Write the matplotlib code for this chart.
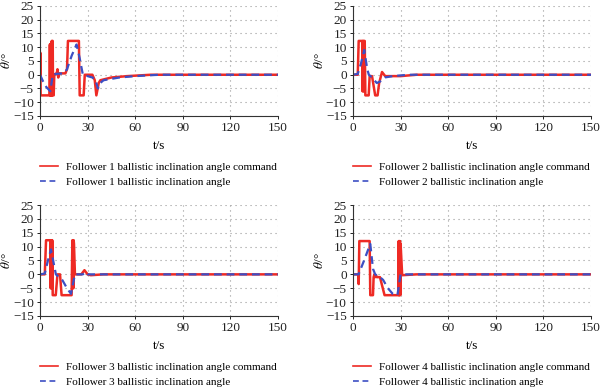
import matplotlib
matplotlib.use("Agg")
import matplotlib.pyplot as plt

plt.rcParams["font.family"] = ["Liberation Serif", "DejaVu Serif"]
plt.rcParams["mathtext.fontset"] = "stix"

# follower 1
t1_cmd = [0, 0.2, 0.4, 0.6, 6.0, 6.2, 6.4, 6.6, 6.8, 7.0, 7.2, 7.4, 7.6, 7.8, 8.0, 8.2, 8.6, 9.0,
          9.5, 10.5, 11.0, 11.5, 12.0, 16.0, 17.0, 17.6, 24.5, 25.0, 27.5, 28.2, 33.0, 34.5, 35.5,
          37.0, 38.0, 45.0, 55.0, 70.0, 150]
v1_cmd = [0, 8, -7.5, -7.5, -7.5, 11, -7.5, 11, -7.5, 11.5, -7.5, 12.3, -7.5, 12.3, 12.3, -7.5, -7.5, 0,
          0.3, 0.3, 2, -1, 0.5, 0.5, 2, 12.3, 12.3, -7.5, -7.5, 0, 0, -2, -7.5,
          -3, -2, -1, -0.5, 0, 0]
t1_act = [0, 2, 4, 6.5, 8, 10, 15, 17, 20, 23, 25, 27, 30, 33, 35, 36.5, 38, 40, 50, 60, 75, 150]
v1_act = [0, -2.5, -4.5, -6, 0, 0.3, 0.5, 2, 7, 11, 6, 0, -0.5, -1, -2, -5, -3, -2, -1, -0.5, 0, 0]

# follower 2
t2_cmd = [0, 3.0, 3.6, 5.8, 6.0, 6.2, 6.4, 6.6, 6.8, 7.0, 7.4, 7.8, 9.9, 10.5, 12.0, 14.0, 15.5,
          16.5, 18.3, 20.3, 30.0, 40.0, 150]
v2_cmd = [0, 0, 12.3, 12.3, -6, 12.3, -6, 12.3, -6, 12.3, 12.3, -7.5, -7.5, -0.5, -0.5, -7.5, -7.5,
          -3, 1, -0.5, -0.5, 0, 0]
t2_act = [0, 3, 5, 7.1, 9, 10, 12, 15, 17, 20, 25, 35, 150]
v2_act = [0, 0.3, 4, 9, 2, 0, -1, -3, -2.5, -1, -0.5, 0, 0]

# follower 3
t3_cmd = [0, 3.0, 3.8, 6.5, 6.7, 6.9, 7.1, 7.3, 7.5, 7.7, 8.0, 9.9, 11.0, 12.6, 13.6, 19.9, 20.4,
          20.6, 20.8, 21.0, 21.2, 21.4, 22.0, 26.0, 28.0, 30.0, 32.0, 40.0, 150]
v3_cmd = [0, 0, 12.3, 12.3, -5, 12.3, -5, 12.3, -5, 12.3, -7.5, -7.5, 0, 0, -7.5, -7.5, 12.3,
          -5, 12.3, -5, 12.3, 11, 0, 0, 1.5, 0, -0.3, 0, 0]
t3_act = [0, 3, 5, 6.9, 10, 12, 14, 17, 19.5, 22, 27, 28.5, 30, 150]
v3_act = [0, 0.3, 5, 9, 0, -1, -2, -5, -7, 0, 0, 0.8, 0, 0]

# follower 4
t4_cmd = [0, 3.4, 3.6, 4.0, 10.5, 10.9, 12.6, 13.0, 13.5, 14.0, 14.5, 15.0, 17.0, 19.9, 28.6, 28.8,
          29.0, 29.2, 29.4, 29.6, 29.8, 30.0, 31.0, 40.0, 150]
v4_cmd = [0, 0, -3.5, 12, 12, -7.5, -7.5, -1, 0, -1, -0.3, -1, -1, -7.5, -7.5, 12,
          -7.5, 12, -7.5, 12, -7.5, 11, -0.3, 0, 0]
t4_act = [0, 3.5, 7, 10.9, 12.6, 14, 17, 19, 22, 25, 28, 30, 40, 150]
v4_act = [0, 0, 5, 11, 2, 0, -1, -2, -5, -7, -7.5, 0, 0, 0]

series = [
    (t1_cmd, v1_cmd, t1_act, v1_act),
    (t2_cmd, v2_cmd, t2_act, v2_act),
    (t3_cmd, v3_cmd, t3_act, v3_act),
    (t4_cmd, v4_cmd, t4_act, v4_act),
]

x_ticks = [0, 30, 60, 90, 120, 150]
y_ticks = [-15, -10, -5, 0, 5, 10, 15, 20, 25]

red = "#ee2a24"
blue = "#3d4fc4"

fig = plt.figure(figsize=(6, 3.89), dpi=100)
positions = [
    [0.0667, 0.7018, 0.3967, 0.2828],
    [0.5883, 0.7018, 0.3967, 0.2828],
    [0.0667, 0.1877, 0.3967, 0.2853],
    [0.5883, 0.1877, 0.3967, 0.2853],
]

for i, (tc, vc, ta, va) in enumerate(series):
    ax = fig.add_axes(positions[i])
    n = i + 1
    ax.plot(tc, vc, color=red, lw=1.8,
            label=f"Follower {n} ballistic inclination angle command")
    ax.plot(ta, va, color=blue, lw=1.6, ls=(0, (3.5, 2.2)),
            label=f"Follower {n} ballistic inclination angle")
    ax.set_xlim(0, 150)
    ax.set_ylim(-15, 25)
    ax.set_xticks(x_ticks)
    ax.set_yticks(y_ticks)
    ax.set_yticklabels([str(v).replace("-", "\u2212") for v in y_ticks])
    ax.grid(True, color="#999999", ls=(0, (1, 3.5)), lw=0.8)
    for s in ["top", "right"]:
        ax.spines[s].set_visible(False)
    for s in ["left", "bottom"]:
        ax.spines[s].set_color("#333333")
        ax.spines[s].set_linewidth(0.8)
    ax.tick_params(labelsize=9.5, length=2.5, width=0.7, pad=2, colors="#222222")
    ax.set_xlabel("t/s", fontsize=9.5, labelpad=4)
    ax.set_ylabel(r"$\theta$/°", fontsize=9.5, labelpad=0)
    leg = ax.legend(loc="upper left", bbox_to_anchor=(0.0, -0.42), frameon=False,
                    fontsize=8, handlelength=1.6, handletextpad=0.7, labelspacing=0.45,
                    borderaxespad=0, borderpad=0)
    for h in leg.get_lines():
        h.set_linewidth(1.2)

fig.savefig("out.png", dpi=100)
